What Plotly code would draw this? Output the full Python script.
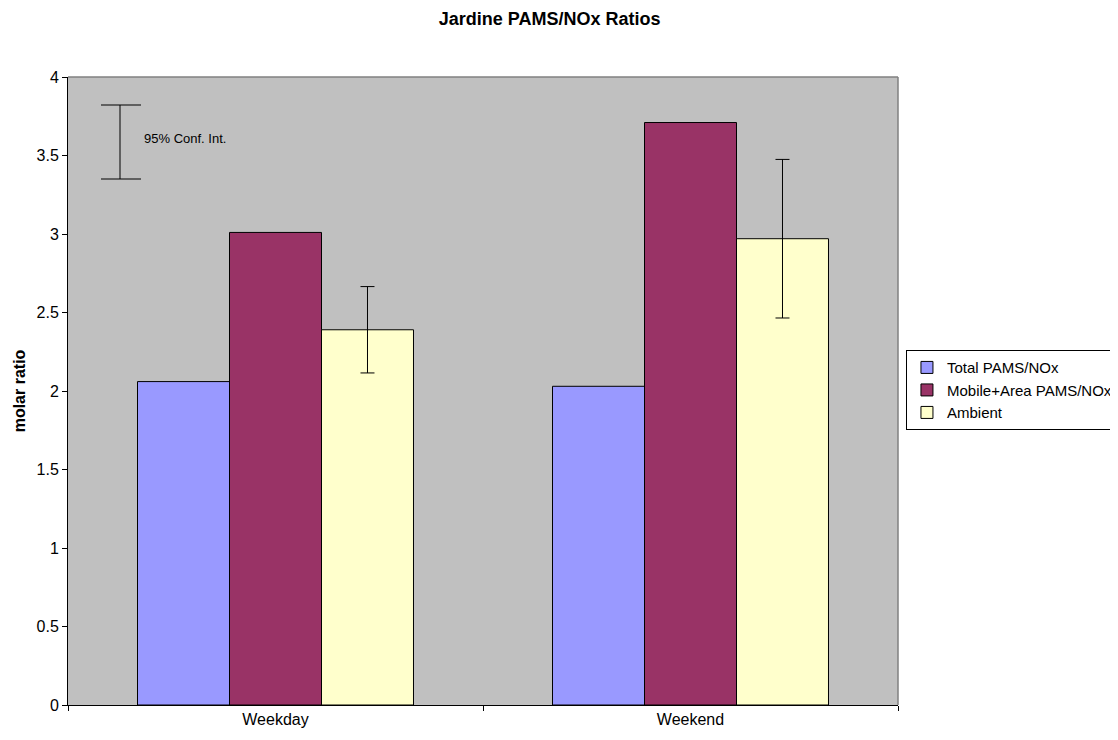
import plotly.graph_objects as go

categories = ["Weekday", "Weekend"]
total_pams = [2.06, 2.03]
mobile_area = [3.01, 3.71]
ambient = [2.39, 2.97]
ambient_ci = [0.275, 0.505]
y_ticks = [0, 0.5, 1, 1.5, 2, 2.5, 3, 3.5, 4]
y_tick_text = ["0", "0.5", "1", "1.5", "2", "2.5", "3", "3.5", "4"]

font_family = "Liberation Sans, Arial, sans-serif"

fig = go.Figure()
fig.add_trace(go.Bar(name="Total PAMS/NOx", x=categories, y=total_pams,
                     marker=dict(color="#9999FF", line=dict(color="black", width=1))))
fig.add_trace(go.Bar(name="Mobile+Area PAMS/NOx", x=categories, y=mobile_area,
                     marker=dict(color="#993366", line=dict(color="black", width=1))))
fig.add_trace(go.Bar(name="Ambient", x=categories, y=ambient,
                     marker=dict(color="#FFFFCC", line=dict(color="black", width=1)),
                     error_y=dict(type="data", array=ambient_ci, color="black",
                                  thickness=1, width=7)))

# page body has an 8px margin, so the figure is drawn at (8, 8)
fig.update_layout(
    width=1110, height=732,
    margin=dict(l=60, r=220, t=69, b=35, autoexpand=False),
    paper_bgcolor="white",
    plot_bgcolor="#C0C0C0",
    barmode="group",
    bargap=0.335,
    bargroupgap=0,
    font=dict(family=font_family, size=16, color="black"),
    title=dict(text="<b>Jardine PAMS/NOx Ratios</b>", x=0.488, xanchor="center",
               xref="container", y=0.985, yanchor="middle", font=dict(size=18)),
    legend=dict(x=1.0096, xanchor="left", y=0.565, yanchor="top",
                bgcolor="white", bordercolor="black", borderwidth=1,
                font=dict(size=15), itemwidth=30),
    showlegend=True,
)
fig.update_xaxes(type="category", tickson="boundaries", ticks="outside", ticklen=5,
                 tickcolor="black", showline=True, linecolor="black", linewidth=1,
                 showgrid=False, tickfont=dict(size=16))
fig.update_yaxes(range=[0, 4], tickvals=y_ticks, ticktext=y_tick_text,
                 ticks="outside", ticklen=5, tickcolor="black", showline=True,
                 linecolor="black", linewidth=1, showgrid=False, zeroline=False,
                 tickfont=dict(size=16),
                 title=dict(text="<b>molar ratio</b>", font=dict(size=16), standoff=6))

# plot area border (top and right)
fig.add_shape(type="line", xref="paper", yref="paper", x0=0, x1=1, y0=1, y1=1,
              line=dict(color="#808080", width=1.5))
fig.add_shape(type="line", xref="paper", yref="paper", x0=1, x1=1, y0=0, y1=1,
              line=dict(color="#808080", width=1.5))

# confidence-interval key
kx = (120 - 68) / 830
kx0 = (101 - 68) / 830
kx1 = (141 - 68) / 830
ky0 = (705 - 179) / 628
ky1 = (705 - 105) / 628
for yy in (ky0, ky1):
    fig.add_shape(type="line", xref="paper", yref="paper", x0=kx0, x1=kx1, y0=yy, y1=yy,
                  line=dict(color="black", width=1))
fig.add_shape(type="line", xref="paper", yref="paper", x0=kx, x1=kx, y0=ky0, y1=ky1,
              line=dict(color="black", width=1))
fig.add_annotation(xref="paper", yref="paper", x=(142 - 68) / 830, y=(705 - 138) / 628,
                   text="95% Conf. Int.", showarrow=False, xanchor="left", yanchor="middle",
                   font=dict(size=13))

fig.write_html("out.html")
